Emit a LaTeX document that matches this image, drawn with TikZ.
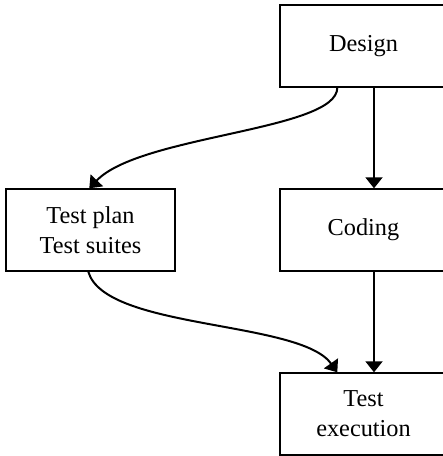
\documentclass[tikz,border=0pt]{standalone}
\usepackage{fontspec}
\setmainfont{Liberation Serif}
\usetikzlibrary{arrows.meta}
\begin{document}
\begin{tikzpicture}[x=1pt,y=-1pt,
  box/.style={draw=black, line width=1.4pt, rectangle, minimum height=82pt,
    align=center, inner sep=0pt, font=\fontsize{24.3}{30}\selectfont},
  flow/.style={line width=2pt, -{Triangle[length=11pt,width=17pt]}}]
\useasboundingbox (0,0) rectangle (443,456);
\node[box, minimum width=167pt] (design) at (363.5,46) {Design};
\node[box, minimum width=167pt] (coding) at (363.5,230) {Coding};
\node[box, minimum width=167pt] (exec) at (363.5,414) {Test\\execution};
\node[box, minimum width=169pt] (plan) at (90.5,230) {Test plan\\Test suites};
\draw[flow] ([xshift=10.5pt]design.south) -- ([xshift=10.5pt]coding.north);
\draw[flow] ([xshift=10.5pt]coding.south) -- ([xshift=10.5pt]exec.north);
\draw[flow] ([xshift=58pt]design.south west) .. controls +(0,43) and (140,135) .. ([xshift=84pt]plan.north west);
\draw[flow] ([xshift=83pt]plan.south west) .. controls (105,330) and (300,320) .. ([xshift=58pt]exec.north west);
\end{tikzpicture}
\end{document}
